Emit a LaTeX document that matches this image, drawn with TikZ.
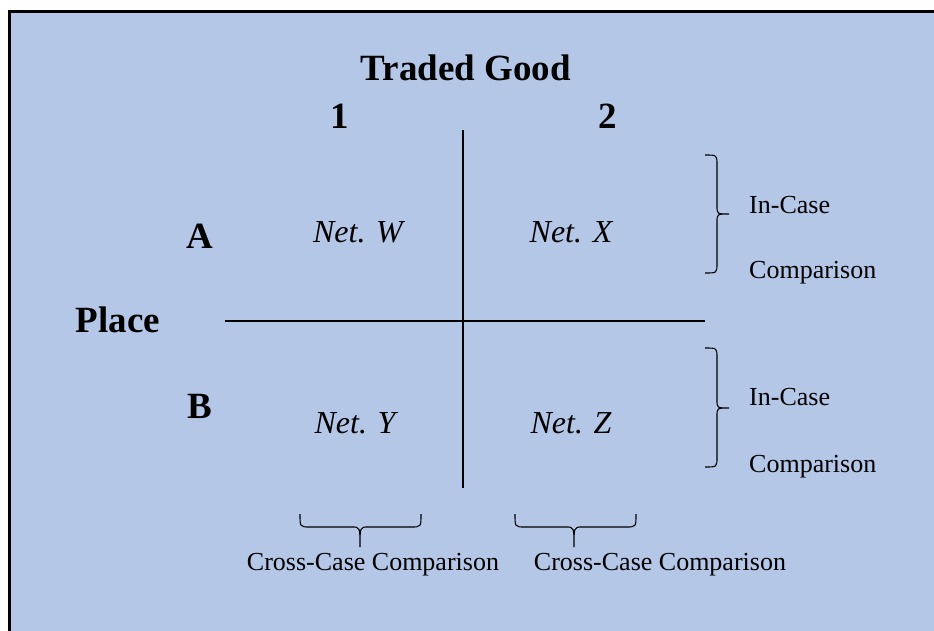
\documentclass[tikz,border=0pt]{standalone}
\usepackage{fontspec}
\setmainfont{Liberation Serif}
\usepackage{tikz}
\usetikzlibrary{positioning, calc}

\definecolor{panelblue}{RGB}{180,199,231}

\begin{document}
\begin{tikzpicture}[
        x=1pt, y=-1pt,
        % Define styles for the headings, cells and notes
        heading/.style={font=\fontsize{37}{40}\selectfont\bfseries, inner sep=0pt, anchor=base},
        cell/.style={font=\fontsize{32}{36}\selectfont\itshape, inner sep=0pt, anchor=base},
        note/.style={font=\fontsize{26}{30}\selectfont, inner sep=0pt},
        axis/.style={line width=1.6pt},
        bracket/.style={line width=1.1pt}
    ]
    \useasboundingbox (0,0) rectangle (934,630);
    \clip (0,0) rectangle (934,630);

    % Draw the background panel
    \draw[fill=panelblue, line width=3pt] (9.5,11) rectangle (950,650);

    % Draw the headings
    \node[heading] (good) at (466,80) {Traded Good};
    \node[heading] (one) at (340,128) {1};
    \node[heading] (two) at (608,128) {2};
    \node[heading] (placeA) at (200,248) {A};
    \node[heading] (placeB) at (200,418) {B};
    \node[heading] (place) at (118,332) {Place};

    % Draw the four networks
    \node[cell] (netW) at (358,242) {Net. W};
    \node[cell] (netX) at (571,242) {Net. X};
    \node[cell] (netY) at (355,433) {Net. Y};
    \node[cell] (netZ) at (571,433) {Net. Z};

    % Draw the dividing lines
    \coordinate (vtop) at (463,130);
    \coordinate (vbot) at (463,488);
    \coordinate (hleft) at (225,321);
    \coordinate (hright) at (705,321);
    \draw[axis] (vtop) -- (vbot);
    \draw[axis] (hleft) -- (hright);

    % Draw the in-case brackets and their notes
    \draw[bracket] (705,155) .. controls (717,155) .. (717,165) -- (717,206)
        .. controls (717,214) .. (729,214) .. controls (717,214) .. (717,222)
        -- (717,263) .. controls (717,273) .. (705,273);
    \node[note, anchor=base west] (inA) at (749,213) {In-Case};
    \node[note, anchor=base west] (cmpA) at (749,278) {Comparison};

    \draw[bracket] (705,348) .. controls (717,348) .. (717,358) -- (717,400)
        .. controls (717,408) .. (729,408) .. controls (717,408) .. (717,416)
        -- (717,457) .. controls (717,467) .. (705,467);
    \node[note, anchor=base west] (inB) at (749,405) {In-Case};
    \node[note, anchor=base west] (cmpB) at (749,472) {Comparison};

    % Draw the cross-case brackets and their notes
    \draw[bracket] (300,514) .. controls (300,527) .. (310,527) -- (352,527)
        .. controls (360,527) .. (360,547) .. controls (360,527) .. (368,527)
        -- (411,527) .. controls (421,527) .. (421,514);
    \node[note] (crossL) at (373,565) {Cross-Case Comparison};

    \draw[bracket] (515,514) .. controls (515,527) .. (525,527) -- (566,527)
        .. controls (574,527) .. (574,547) .. controls (574,527) .. (582,527)
        -- (626,527) .. controls (636,527) .. (636,514);
    \node[note] (crossR) at (660,565) {Cross-Case Comparison};
\end{tikzpicture}
\end{document}
